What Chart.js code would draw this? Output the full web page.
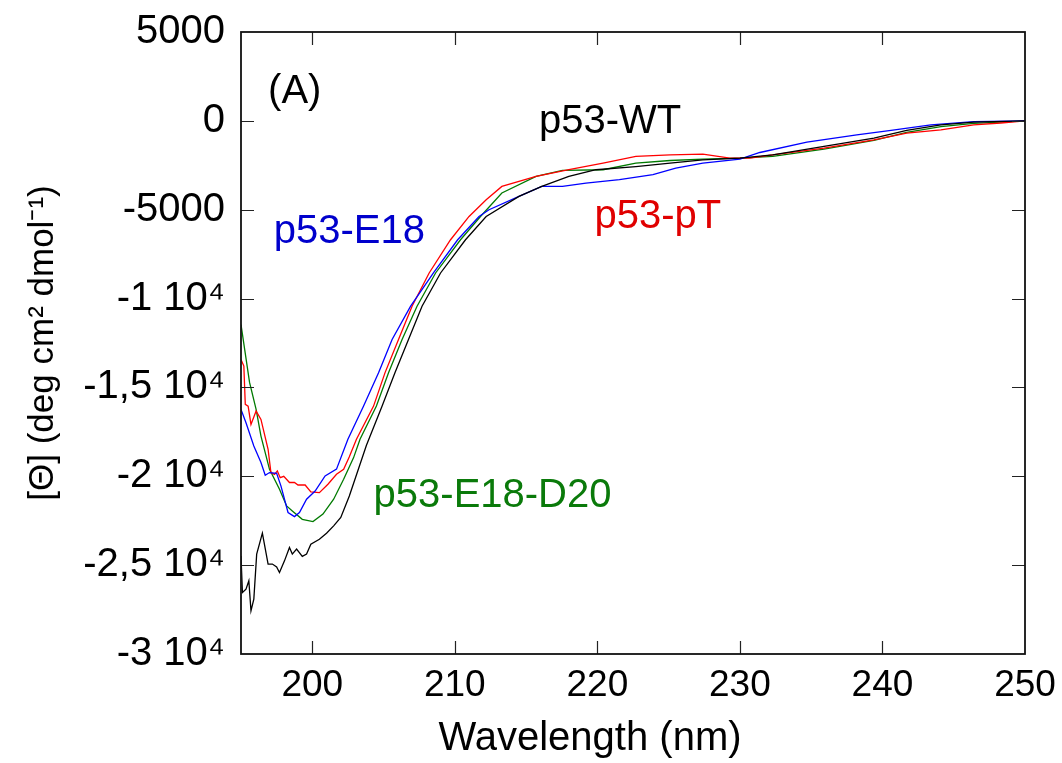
<!DOCTYPE html>
<html><head><meta charset="utf-8">
<script src="https://cdn.jsdelivr.net/npm/chart.js@4.4.1/dist/chart.umd.min.js"></script>
<style>html,body{margin:0;padding:0;background:#fff;}#wrap{width:1062px;height:763px;}</style>
</head><body><div id="wrap"><canvas id="c" width="1062" height="763"></canvas></div>
<script>
// ---- data ----
const xTicks = [200, 210, 220, 230, 240, 250];
const yTicks = [-30000, -25000, -20000, -15000, -10000, -5000, 0, 5000];
const yTickLabels = ["-3 10⁴", "-2,5 10⁴", "-2 10⁴", "-1,5 10⁴", "-1 10⁴", "-5000", "0", "5000"];
const xTitle = "Wavelength (nm)";
const yTitle = "[Θ] (deg cm² dmol⁻¹)";

const wtNm = [195.0,195.1,195.35,195.55,195.7,195.9,196.1,196.5,196.9,197.2,197.5,197.7,198.05,198.4,198.6,198.9,199.3,199.6,199.9,200.5,201.0,201.5,202.0,202.6,203.8,204.9,205.8,206.75,207.7,209.0,210.75,212.2,214.5,216.1,218.0,219.9,222.7,225.1,227.4,230.0,232.3,235.9,239.4,241.7,244.1,246.4,250.0];
const wtVal = [-24480,-26540,-26350,-25880,-27570,-26910,-24380,-23200,-24940,-24940,-25100,-25410,-24760,-24010,-24380,-24100,-24510,-24380,-23820,-23540,-23200,-22790,-22320,-21110,-18250,-16050,-14180,-12300,-10430,-8560,-6690,-5380,-4250,-3690,-3130,-2750,-2570,-2380,-2190,-2100,-1910,-1440,-975,-540,-225,-75,0];

const e18Nm = [195.0,195.35,195.9,196.4,196.7,197.0,197.5,197.8,198.3,198.75,199.1,199.6,200.2,200.9,201.7,202.5,203.6,204.65,205.6,206.9,208.5,210.2,211.7,212.4,214.5,216.1,217.55,219.2,221.55,223.9,225.5,227.4,230.0,231.4,234.7,238.2,240.6,243.4,246.4,250.0];
const e18Val = [-16240,-16990,-18300,-19230,-19940,-19790,-19830,-20540,-22040,-22270,-22040,-21290,-20830,-19980,-19600,-17920,-16050,-14180,-12300,-10430,-8560,-6690,-5380,-5000,-4250,-3690,-3690,-3500,-3310,-3030,-2660,-2380,-2150,-1780,-1200,-790,-540,-225,-40,0];

const ptNm = [195.0,195.2,195.3,195.5,195.7,196.06,196.4,196.9,197.1,197.35,197.55,197.75,198.0,198.4,198.75,199.0,199.5,199.9,200.5,201.1,201.7,202.2,202.6,203.1,204.3,205.1,206.05,207.0,208.2,209.7,211.0,212.2,213.3,215.7,218.0,220.4,222.7,225.1,227.4,229.3,230.7,232.3,235.9,239.4,241.7,244.1,246.4,248.3,250.0];
const ptVal = [-13430,-13800,-15950,-16050,-17080,-16330,-16800,-18480,-19790,-19890,-19700,-20080,-20000,-20350,-20350,-20490,-20490,-20880,-20920,-20450,-19890,-19610,-18900,-17920,-16050,-14180,-12300,-10430,-8560,-6690,-5380,-4440,-3690,-3130,-2750,-2380,-2000,-1910,-1870,-2100,-2100,-1910,-1540,-1070,-690,-505,-225,-120,0];

const d20Nm = [195.0,195.6,196.06,196.4,197.0,197.7,198.2,198.6,199.3,200.05,200.75,201.5,202.2,202.9,203.35,204.5,205.35,206.3,207.35,208.65,210.4,211.8,213.3,215.7,217.55,220.4,222.7,225.1,227.4,230.0,232.3,235.9,239.4,241.7,244.1,246.4,250.0];
const d20Val = [-11460,-14720,-16240,-17740,-19610,-20730,-21670,-21950,-22420,-22550,-22130,-21290,-20170,-18950,-17920,-16050,-14180,-12300,-10430,-8560,-6690,-5380,-4060,-3130,-2790,-2750,-2380,-2230,-2150,-2100,-2000,-1590,-1100,-650,-320,-140,0];

const seriesNames = ["p53-WT", "p53-E18", "p53-pT", "p53-E18-D20"];

// ---- styling / layout ----
const FONT = "'Liberation Sans', Arial, Helvetica, sans-serif";
const lineColors = ["#000000", "#0000ff", "#ff0000", "#007a00"];
const textColors = ["#000000", "#0000cc", "#e00000", "#0a7a0a"];

const toPts = (xs, ys) => xs.map((x, i) => ({x: x, y: ys[i]}));

const annotations = [
  {text: "(A)", nm: 196.9, val: 1630, color: "#000000"},
  {text: seriesNames[0], nm: 215.9, val: -60, color: textColors[0]},
  {text: seriesNames[1], nm: 197.3, val: -6240, color: textColors[1]},
  {text: seriesNames[2], nm: 219.8, val: -5390, color: textColors[2]},
  {text: seriesNames[3], nm: 204.3, val: -21120, color: textColors[3]}
];

const framePlugin = {
  id: 'frame',
  afterDatasetsDraw(chart) {
    const {ctx, chartArea: a, scales: {x, y}} = chart;
    ctx.save();
    ctx.strokeStyle = '#222';
    ctx.lineWidth = 1.2;
    const tl = 13;
    ctx.beginPath();
    x.ticks.forEach(t => {
      const px = Math.round(x.getPixelForValue(t.value)) + 0.5;
      if (px > a.left + 2 && px < a.right - 2) {
        ctx.moveTo(px, a.bottom); ctx.lineTo(px, a.bottom - tl);
        ctx.moveTo(px, a.top); ctx.lineTo(px, a.top + tl);
      }
    });
    y.ticks.forEach(t => {
      const py = Math.round(y.getPixelForValue(t.value)) + 0.5;
      if (py > a.top + 2 && py < a.bottom - 2) {
        ctx.moveTo(a.left, py); ctx.lineTo(a.left + tl, py);
        ctx.moveTo(a.right, py); ctx.lineTo(a.right - tl, py);
      }
    });
    ctx.stroke();
    ctx.lineWidth = 1.8;
    ctx.strokeStyle = '#111';
    ctx.strokeRect(a.left, a.top, a.right - a.left, a.bottom - a.top);
    // annotations
    ctx.font = "40px " + FONT;
    ctx.textAlign = 'left';
    ctx.textBaseline = 'middle';
    annotations.forEach(an => {
      ctx.fillStyle = an.color;
      ctx.fillText(an.text, x.getPixelForValue(an.nm), y.getPixelForValue(an.val));
    });
    // x-axis title (offset left of centre as in the original figure)
    ctx.fillStyle = '#000';
    ctx.textAlign = 'center';
    ctx.font = "40px " + FONT;
    ctx.fillText(xTitle, (a.left + a.right) / 2 - 43, 739);
    ctx.restore();
  }
};

const zeroPad = s => { s.paddingTop = 0; s.paddingBottom = 0; s.paddingLeft = 0; s.paddingRight = 0; };

new Chart(document.getElementById('c'), {
  type: 'line',
  data: {
    datasets: [
      {label: seriesNames[0], data: toPts(wtNm, wtVal), borderColor: lineColors[0]},
      {label: seriesNames[1], data: toPts(e18Nm, e18Val), borderColor: lineColors[1]},
      {label: seriesNames[2], data: toPts(ptNm, ptVal), borderColor: lineColors[2]},
      {label: seriesNames[3], data: toPts(d20Nm, d20Val), borderColor: lineColors[3]}
    ]
  },
  options: {
    responsive: false,
    animation: false,
    devicePixelRatio: 1,
    layout: {padding: {top: 32, right: 37, left: 0, bottom: 0}},
    elements: {
      line: {borderWidth: 1.3, tension: 0, fill: false},
      point: {radius: 0, hoverRadius: 0}
    },
    plugins: {legend: {display: false}, tooltip: {enabled: false}},
    scales: {
      x: {
        type: 'linear', min: 195, max: 250,
        afterBuildTicks: s => { s.ticks = xTicks.map(v => ({value: v})); },
        afterFit: s => { s.height = 109; zeroPad(s); },
        grid: {display: false, drawTicks: false, tickLength: 0},
        border: {display: false},
        ticks: {
          color: '#000', padding: 10, maxRotation: 0, autoSkip: false,
          font: {family: FONT, size: 37},
          callback: v => String(v)
        },
        title: {display: false}
      },
      y: {
        type: 'linear', min: -30000, max: 5000,
        afterBuildTicks: s => { s.ticks = yTicks.map(v => ({value: v})); },
        afterFit: s => { s.width = 241; zeroPad(s); },
        grid: {display: false, drawTicks: false, tickLength: 0},
        border: {display: false},
        ticks: {
          color: '#000', padding: 16, autoSkip: false,
          font: {family: FONT, size: 40},
          callback: (v, i) => yTickLabels[i]
        },
        title: {display: true, text: yTitle, color: '#000',
          font: {family: FONT, size: 35}, padding: {top: 22, bottom: 0}}
      }
    }
  },
  plugins: [framePlugin]
});
</script></body></html>
